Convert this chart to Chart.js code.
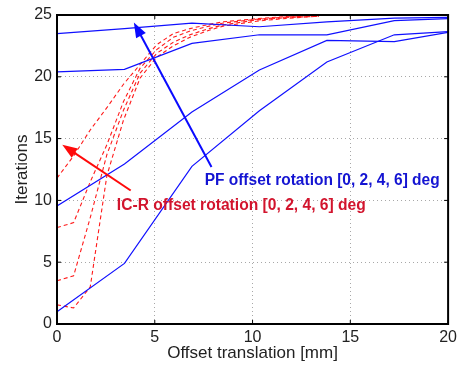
<!DOCTYPE html>
<html>
<head>
<meta charset="utf-8">
<script src="https://cdn.jsdelivr.net/npm/chart.js@4"></script>
<style>
  body { margin: 0; background: #fff; }
  #wrap { width: 461px; height: 367px; }
</style>
</head>
<body>
<div id="wrap"><canvas id="chart"></canvas></div>
<script>
// offset translation [mm] for the PF runs and the IC-R runs
const pfX = [0, 3.45, 6.9, 10.35, 13.8, 17.25, 20];
const icrX = [0, 0.85, 1.7, 2.55, 3.4, 4.25, 5.1, 5.95, 6.8, 7.65, 8.5, 10.2, 11.9, 13.4];

// PF iterations, rotation 0, 2, 4, 6 deg
const pfRot0 = [23.5, 23.9, 24.35, 24.05, 24.45, 24.75, 24.8];
const pfRot2 = [20.4, 20.6, 22.7, 23.4, 23.4, 24.55, 24.7];
const pfRot4 = [9.55, 12.95, 17.15, 20.55, 22.95, 22.85, 23.6];
const pfRot6 = [1.0, 4.9, 12.75, 17.25, 21.2, 23.4, 23.65];

// IC-R iterations, rotation 0, 2, 4, 6 deg
const icrRot0 = [11.8, 13.6, 15.7, 17.5, 19.4, 21.0, 22.6, 23.5, 23.9, 24.2, 24.45, 24.7, 24.9, 25.0];
const icrRot2 = [7.8, 8.2, 11.5, 14.5, 18.0, 20.7, 22.2, 23.2, 23.7, 24.05, 24.35, 24.65, 24.85, 24.95];
const icrRot4 = [3.5, 3.9, 8.6, 13.7, 17.3, 20.3, 21.9, 22.8, 23.4, 23.85, 24.2, 24.6, 24.8, 24.9];
const icrRot6 = [1.55, 1.3, 3.0, 12.0, 16.5, 19.9, 21.6, 22.5, 23.2, 23.7, 24.1, 24.5, 24.75, 24.9];

const xTicks = [0, 5, 10, 15, 20];
const yTicks = [0, 5, 10, 15, 20, 25];

// annotations, in data coordinates
const pfArrow = [[7.9, 12.7], [3.93, 24.4]];
const icrArrow = [[3.77, 10.8], [0.27, 14.5]];
const pfLabel = { text: 'PF offset rotation [0, 2, 4, 6] deg', x: 7.55, y: 11.58 };
const icrLabel = { text: 'IC-R offset rotation [0, 2, 4, 6] deg', x: 3.06, y: 9.6 };

const BLUE = '#1010ff';
const RED = '#ff1a1a';

function pts(xs, ys) {
    return xs.map((x, i) => ({ x: x, y: ys[i] }));
}

const pfSets = [pfRot0, pfRot2, pfRot4, pfRot6].map((ys, i) => ({
    label: 'PF ' + [0, 2, 4, 6][i] + ' deg',
    data: pts(pfX, ys),
    borderColor: BLUE,
    borderWidth: 1.2,
    pointRadius: 0,
    showLine: true,
    fill: false
}));

const icrSets = [icrRot0, icrRot2, icrRot4, icrRot6].map((ys, i) => ({
    label: 'IC-R ' + [0, 2, 4, 6][i] + ' deg',
    data: pts(icrX, ys),
    borderColor: RED,
    borderWidth: 1.1,
    borderDash: [4, 3],
    pointRadius: 0,
    showLine: true,
    fill: false
}));

function arrow(ctx, x1, y1, x2, y2, color) {
    const ang = Math.atan2(y2 - y1, x2 - x1);
    const head = 15, half = 5.5;
    ctx.save();
    ctx.strokeStyle = color;
    ctx.fillStyle = color;
    ctx.lineWidth = 2;
    ctx.beginPath();
    ctx.moveTo(x1, y1);
    ctx.lineTo(x2 - Math.cos(ang) * head * 0.8, y2 - Math.sin(ang) * head * 0.8);
    ctx.stroke();
    ctx.beginPath();
    ctx.moveTo(x2, y2);
    ctx.lineTo(x2 - Math.cos(ang) * head + Math.sin(ang) * half, y2 - Math.sin(ang) * head - Math.cos(ang) * half);
    ctx.lineTo(x2 - Math.cos(ang) * head - Math.sin(ang) * half, y2 - Math.sin(ang) * head + Math.cos(ang) * half);
    ctx.closePath();
    ctx.fill();
    ctx.restore();
}

const extras = {
    id: 'extras',
    afterDatasetsDraw(chart) {
        const ctx = chart.ctx;
        const xs = chart.scales.x, ys = chart.scales.y;
        const a = chart.chartArea;

        // frame and inward ticks, matlab style
        ctx.save();
        ctx.strokeStyle = '#000';
        ctx.lineWidth = 2;
        ctx.strokeRect(a.left, a.top, a.right - a.left, a.bottom - a.top);
        ctx.lineWidth = 1;
        ctx.beginPath();
        xTicks.forEach(v => {
            const px = xs.getPixelForValue(v);
            ctx.moveTo(px, a.bottom); ctx.lineTo(px, a.bottom - 4);
            ctx.moveTo(px, a.top); ctx.lineTo(px, a.top + 4);
        });
        yTicks.forEach(v => {
            const py = ys.getPixelForValue(v);
            ctx.moveTo(a.left, py); ctx.lineTo(a.left + 4, py);
            ctx.moveTo(a.right, py); ctx.lineTo(a.right - 4, py);
        });
        ctx.stroke();
        ctx.restore();

        arrow(ctx, xs.getPixelForValue(pfArrow[0][0]), ys.getPixelForValue(pfArrow[0][1]),
            xs.getPixelForValue(pfArrow[1][0]), ys.getPixelForValue(pfArrow[1][1]), '#0a0aff');
        arrow(ctx, xs.getPixelForValue(icrArrow[0][0]), ys.getPixelForValue(icrArrow[0][1]),
            xs.getPixelForValue(icrArrow[1][0]), ys.getPixelForValue(icrArrow[1][1]), '#ff0a0a');

        ctx.save();
        ctx.font = 'bold 16px "Liberation Sans", Arial, sans-serif';
        ctx.textBaseline = 'middle';
        ctx.textAlign = 'left';
        ctx.fillStyle = '#1414d2';
        ctx.fillText(pfLabel.text, xs.getPixelForValue(pfLabel.x), ys.getPixelForValue(pfLabel.y), 235);
        ctx.fillStyle = '#d2142d';
        ctx.fillText(icrLabel.text, xs.getPixelForValue(icrLabel.x), ys.getPixelForValue(icrLabel.y), 249);
        ctx.restore();
    }
};

const font = { family: '"Liberation Sans", Arial, sans-serif', size: 16 };

new Chart(document.getElementById('chart').getContext('2d'), {
    type: 'scatter',
    data: { datasets: pfSets.concat(icrSets) },
    options: {
        responsive: true,
        maintainAspectRatio: false,
        animation: false,
        layout: { padding: { top: 15, right: 11, left: 0, bottom: 0 } },
        plugins: { legend: { display: false }, tooltip: { enabled: false } },
        scales: {
            x: {
                type: 'linear', min: 0, max: 20,
                afterFit: s => { s.height = 43; },
                afterBuildTicks: s => { s.ticks = xTicks.map(v => ({ value: v })); },
                ticks: { color: '#222', font: font, padding: 4 },
                grid: { color: '#a8a8a8', lineWidth: 1, drawTicks: false },
                border: { display: false, dash: [1, 3] },
                title: { display: true, text: 'Offset translation [mm]', color: '#222',
                    font: { family: font.family, size: 17 }, padding: { top: 0, bottom: 3 } }
            },
            y: {
                type: 'linear', min: 0, max: 25,
                afterFit: s => { s.width = 57; },
                afterBuildTicks: s => { s.ticks = yTicks.map(v => ({ value: v })); },
                ticks: { color: '#222', font: font, padding: 5 },
                grid: { color: '#a8a8a8', lineWidth: 1, drawTicks: false },
                border: { display: false, dash: [1, 3] },
                title: { display: true, text: 'Iterations', color: '#222',
                    font: { family: font.family, size: 17 }, padding: { top: 12, bottom: 0 } }
            }
        }
    },
    plugins: [extras]
});
</script>
</body>
</html>
